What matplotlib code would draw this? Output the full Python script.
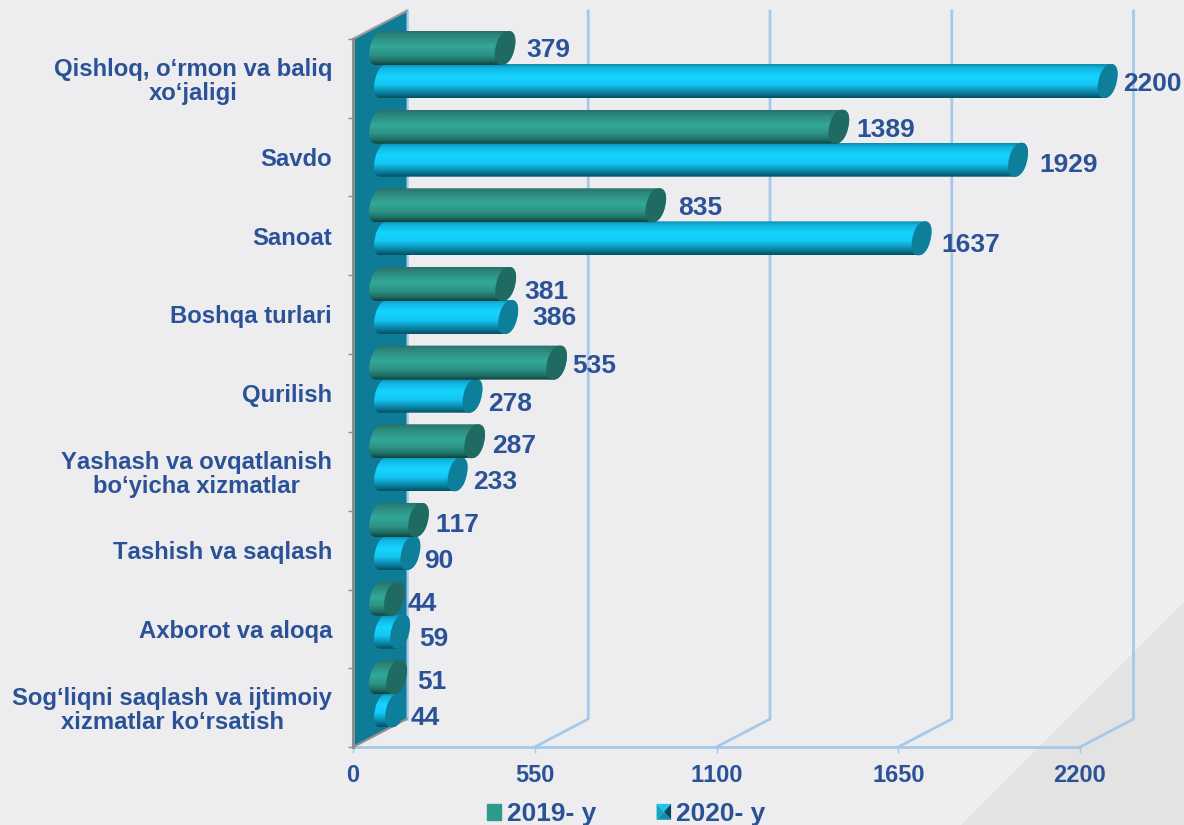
import matplotlib
matplotlib.use("Agg")
import matplotlib.pyplot as plt
import numpy as np
from matplotlib.colors import LinearSegmentedColormap
from matplotlib.legend_handler import HandlerBase
from matplotlib.patches import Patch, Polygon

plt.rcParams["font.family"] = ["Liberation Sans", "DejaVu Sans"]
plt.rcParams["font.weight"] = "bold"
plt.rcParams["text.kerning_factor"] = 6

categories = [
    "Qishloq, o‘rmon va baliq\nxo‘jaligi",
    "Savdo",
    "Sanoat",
    "Boshqa turlari",
    "Qurilish",
    "Yashash va ovqatlanish\nbo‘yicha xizmatlar",
    "Tashish va saqlash",
    "Axborot va aloqa",
    "Sog‘liqni saqlash va ijtimoiy\nxizmatlar ko‘rsatish",
]
values_2019 = [379, 1389, 835, 381, 535, 287, 117, 44, 51]
values_2020 = [2200, 1929, 1637, 386, 278, 233, 90, 59, 44]
x_ticks = [0, 550, 1100, 1650, 2200]

# label nudges in pixels, the original labels were placed by hand
nudge_2019 = [(11, 2), (7, 3), (12, 3), (8, 8), (5, 3), (7, 5), (6, 5), (3, 5), (10, 5)]
nudge_2020 = [(6, 3), (11, 5), (10, 7), (14, 1), (6, 8), (6, 8), (4, 8), (9, 7), (5, 8)]

TEXT = "#2B5296"
GRID = "#A6C9EA"
BG = "#EDEDF0"

fig = plt.figure(figsize=(11.84, 8.25), dpi=100, facecolor=BG)

# Axes box is the front plane of the fake 3D chart
ax = fig.add_axes([353 / 1184, 1 - 747 / 825, 727 / 1184, 708 / 825])
ax.patch.set_visible(False)
ax.set_xlim(0, 2200)
ax.set_ylim(9, 0)

px_x = 2200 / 727  # data units per pixel
px_y = 9 / 708
depth_x = 53.5 * px_x
depth_y = 28 * px_y


def fig_xy(points):
    return [(x / 1184, 1 - y / 825) for x, y in points]


# Background corner
fig.add_artist(Polygon(fig_xy([(1184, 594), (953, 825), (1184, 825)]), color="#EFEFF1", lw=0, zorder=-2))
fig.add_artist(Polygon(fig_xy([(1184, 602), (961, 825), (1184, 825)]), color="#E3E3E3", lw=0, zorder=-1))

# Walls and gridlines
for tick in x_ticks[1:]:
    ax.plot(
        [tick, tick + depth_x, tick + depth_x],
        [9, 9 - depth_y, -depth_y],
        color=GRID,
        lw=2,
        clip_on=False,
        zorder=1,
    )
ax.plot([depth_x, depth_x], [-depth_y, 9 - depth_y], color=GRID, lw=2.6, clip_on=False, zorder=1)
ax.add_patch(
    Polygon(
        [(0, 0), (depth_x, -depth_y), (depth_x, 9 - depth_y), (0, 9)],
        color="#0E7B97",
        lw=0,
        clip_on=False,
        zorder=2,
    )
)
ax.plot([0, depth_x], [0, -depth_y], color="#9A9A9A", lw=1.6, clip_on=False, zorder=3)
ax.plot([0, depth_x], [9, 9 - depth_y], color="#8E8E8E", lw=1.6, clip_on=False, zorder=3)

# Axes
for side in ["top", "right"]:
    ax.spines[side].set_visible(False)
ax.spines["left"].set_color("#8E8E8E")
ax.spines["left"].set_linewidth(2.2)
ax.spines["left"].set_zorder(4)
ax.spines["bottom"].set_color(GRID)
ax.spines["bottom"].set_linewidth(2)
ax.set_xticks(x_ticks)
ax.set_yticks(np.arange(len(categories)) + 0.5)
ax.set_yticklabels(categories, multialignment="center", linespacing=1.05)
ax.set_yticks(np.arange(len(categories) + 1), minor=True)
ax.tick_params(axis="x", colors=TEXT, color=GRID, length=4.5, width=1, labelsize=17, pad=8)
ax.tick_params(axis="y", which="major", length=0, colors=TEXT, labelsize=17.2, pad=15)
ax.tick_params(axis="y", which="minor", length=3.5, width=1, color="#8E8E8E")


def draw_cylinder(left, right, centre, half_height, half_width, cmap, cap_colour, zorder):
    # outline is two skewed, slightly squared half ellipses joined by straight edges
    skew = 0.2 * px_x / px_y

    def edge(cx, t):
        y = half_height * np.sign(np.sin(t)) * np.abs(np.sin(t)) ** 0.9
        x = half_width * np.sign(np.cos(t)) * np.abs(np.cos(t)) ** 0.9
        return np.column_stack([cx + x - skew * y, centre + y])

    t_right = np.linspace(-np.pi / 2, np.pi / 2, 40)
    t_left = np.linspace(np.pi / 2, 3 * np.pi / 2, 40)
    outline = np.vstack([edge(right, t_right), edge(left, t_left)])
    body = Polygon(outline, closed=True, transform=ax.transData, fc="none", ec="none")
    ax.add_patch(body)
    body.set_clip_on(False)
    shade = np.linspace(0, 1, 128).reshape(-1, 1)
    image = ax.imshow(
        shade,
        cmap=cmap,
        aspect="auto",
        extent=(left - 20 * px_x, right + 20 * px_x, centre + half_height, centre - half_height),
        zorder=zorder,
    )
    image.set_clip_box(fig.bbox)
    image.set_clip_path(body)
    cap = Polygon(
        edge(right, np.linspace(0, 2 * np.pi, 80)),
        closed=True,
        fc=cap_colour,
        ec="none",
        clip_on=False,
        zorder=zorder,
    )
    ax.add_patch(cap)


teal = LinearSegmentedColormap.from_list(
    "teal", [(0, "#2A6F68"), (0.12, "#2B8579"), (0.45, "#33A898"), (0.7, "#2C9285"), (0.88, "#1E6E64"), (1, "#0E3F3B")]
)
cyan = LinearSegmentedColormap.from_list(
    "cyan", [(0, "#0C8DAE"), (0.12, "#10B6E0"), (0.35, "#16D4FF"), (0.6, "#14C8F4"), (0.85, "#0A7FA0"), (1, "#04505F")]
)

series = [
    (values_2020, nudge_2020, 0.534, 384 - 353, 380.6 - 353, 10.0, cyan, "#0E7F9B", 5),
    (values_2019, nudge_2019, 0.114, 379.5 - 353, 379.8 - 353, 10.5, teal, "#1F6B62", 6),
]
half_height = 17 * px_y
for values, nudges, y_shift, left_px, zero_px, cap_px, cmap, cap_colour, z in series:
    half_width = 9.6 * px_x if cap_px > 10 else 9.2 * px_x
    for i, value in enumerate(values):
        centre = i + y_shift
        left = left_px * px_x
        right = zero_px * px_x + value
        draw_cylinder(left, right, centre, half_height, half_width, cmap, cap_colour, z)
        ax.annotate(
            str(value),
            xy=(right + cap_px * px_x, centre),
            xytext=(nudges[i][0], -nudges[i][1]),
            textcoords="offset pixels",
            ha="left",
            va="center",
            color=TEXT,
            fontsize=19,
            annotation_clip=False,
            zorder=8,
        )

ax.set_xlim(0, 2200)
ax.set_ylim(9, 0)


class BevelHandler(HandlerBase):
    def create_artists(self, legend, orig_handle, xdescent, ydescent, width, height, fontsize, trans):
        x0, y0 = -xdescent, -ydescent
        x1, y1 = x0 + width, y0 + height
        mx, my = x0 + width / 2, y0 + height / 2
        faces = [
            ([(x0, y1), (x1, y1), (mx, my)], "#1CC6EA"),
            ([(x0, y0), (x0, y1), (mx, my)], "#12A5C8"),
            ([(x1, y0), (x1, y1), (mx, my)], "#06485C"),
            ([(x0, y0), (x1, y0), (mx, my)], "#0E8FB0"),
        ]
        return [Polygon(pts, fc=c, ec="none", transform=trans) for pts, c in faces]


handle_2019 = Patch(color="#2E9A8C", label="2019- y")
handle_2020 = Patch(color="#0E8FB0", label="2020- y")
fig.legend(
    handles=[handle_2019, handle_2020],
    handler_map={handle_2020: BevelHandler()},
    loc="lower left",
    bbox_to_anchor=(471 / 1184, -17 / 825),
    ncol=2,
    frameon=False,
    fontsize=19,
    labelcolor=TEXT,
    handlelength=0.55,
    handleheight=0.55,
    handletextpad=0.2,
    columnspacing=2.3,
    borderpad=0.1,
)

fig.savefig("out.png", dpi=100, facecolor=BG)
